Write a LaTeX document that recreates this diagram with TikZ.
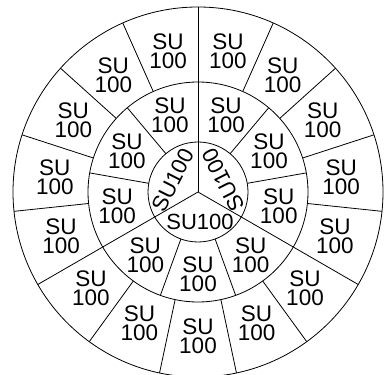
\documentclass[tikz,border=0pt]{standalone}
\usepackage{fontspec}
\setmainfont{Liberation Sans}
\usepackage{tikz}

\tikzset{
  cell/.style={align=center, inner sep=0pt, font=\fontsize{22.5pt}{19pt}\selectfont},
  hub/.style={inner sep=0pt, font=\fontsize{22pt}{22pt}\selectfont},
  rim/.style={draw, line width=0.8pt},
}

\begin{document}
\begin{tikzpicture}
    \useasboundingbox (-198pt,-182pt) rectangle (189pt,192pt);
    \coordinate (c) at (0,0);
    \path[rim] (c) circle[radius=185pt] (c) circle[radius=110pt] (c) circle[radius=50pt];

    % spokes
    \foreach \k in {0,...,14} \draw[rim] (90+24*\k:110pt) -- (90+24*\k:185pt);
    \foreach \k in {0,...,8} \draw[rim] (90+40*\k:50pt) -- (90+40*\k:110pt);
    \foreach \a in {90,210,330} \draw[rim] (c) -- (\a:50pt);

    % labels
    \foreach \k in {0,...,14} \node[cell] (outer\k) at (102+24*\k:144pt) {SU\\100};
    \foreach \k in {0,...,8} \node[cell] (middle\k) at (110+40*\k:82pt) {SU\\100};
    \node[hub, rotate=63] (hubL) at (-25pt,12pt) {SU100};
    \node[hub, rotate=117] (hubR) at (25pt,12pt) {SU100};
    \node[hub] (hubB) at (2pt,-30pt) {SU100};
\end{tikzpicture}
\end{document}
